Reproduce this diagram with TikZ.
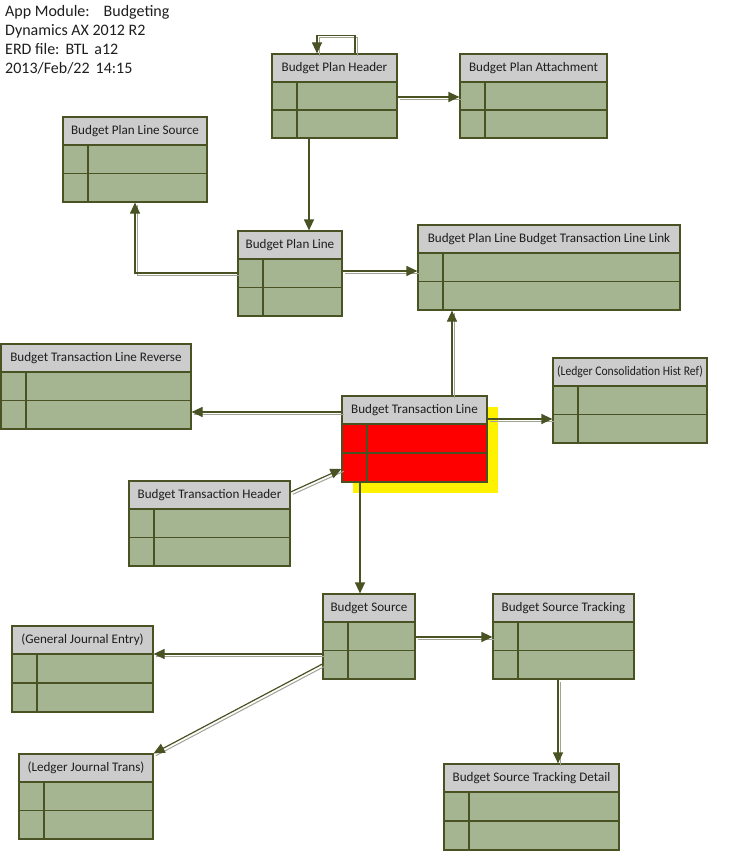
\documentclass[tikz,border=0pt]{standalone}
\usepackage{fontspec}
\setmainfont{Carlito}
\usetikzlibrary{arrows.meta,fit}
\definecolor{boxfill}{RGB}{165,181,146}
\definecolor{edge}{RGB}{72,82,34}
\definecolor{hdr}{RGB}{204,204,204}
\definecolor{ghost}{RGB}{160,162,148}
\definecolor{txt}{RGB}{30,30,30}
\tikzset{
  x=1pt, y=-1pt,
  boxline/.style={draw=edge, line width=1.2pt},
  title/.style={font=\fontsize{13.1}{15}\selectfont, text=txt, inner sep=0pt},
  info/.style={font=\fontsize{16}{19}\selectfont, text=txt, inner sep=0pt, anchor=base west},
  sconn/.style={draw=edge, line width=1.2pt, -{Triangle[length=11pt,width=10pt]}},
  dconn/.style={sconn, preaction={-, draw=ghost, line width=1pt, transform canvas={shift={(2.3pt,-2.3pt)}}}},
}
\newcommand\erdbox[7][boxfill]{%
  \fill[#1] (#3,#4+28) rectangle (#5,#6);
  \fill[hdr] (#3,#4) rectangle (#5,#4+28);
  \draw[boxline] (#3,#4+28) -- (#5,#4+28);
  \draw[boxline] (#3,{(#4+28+#6)/2}) -- (#5,{(#4+28+#6)/2});
  \draw[boxline] (#3+25,#4+28) -- (#3+25,#6);
  \node[fit={(#3,#4) (#5,#6)}, inner sep=0pt, boxline] (#2) {};
  \node[title] (#2-t) at ({(#3+#5)/2},#4+14) {#7};
}
\begin{document}
\begin{tikzpicture}
\useasboundingbox (0,0) rectangle (736,851);
\fill[white] (0,0) rectangle (736,851);

\node[info] (l1) at (5,17) {App Module:\hspace{14pt}Budgeting};
\node[info] (l2) at (5,36) {Dynamics AX 2012 R2};
\node[info] (l3) at (5,55) {ERD file:\hspace{6pt}BTL\hspace{6pt}a12};
\node[info] (l4) at (5,74) {2013/Feb/22\hspace{6pt}14:15};

\erdbox{plh}{272}{54}{397}{138}{Budget Plan Header}
\erdbox{pla}{460}{54}{607}{138}{Budget Plan Attachment}
\erdbox{pls}{63}{117}{207}{202}{Budget Plan Line Source}
\erdbox{pl}{238}{231}{342}{316}{Budget Plan Line}
\erdbox{link}{418}{225}{680}{310}{Budget Plan Line Budget Transaction Line Link}
\erdbox{btlr}{1}{344}{191}{429}{Budget Transaction Line Reverse}
\fill[yellow] (353,407) rectangle (498,493);
\erdbox[red]{btl}{342}{396}{487}{482}{Budget Transaction Line}
\erdbox{lch}{553}{358}{707}{443}{\scalebox{0.89}[1]{(Ledger Consolidation Hist Ref)}}
\erdbox{bth}{129}{481}{290}{566}{Budget Transaction Header}
\erdbox{bs}{323}{594}{415}{679}{Budget Source}
\erdbox{bst}{493}{594}{634}{679}{Budget Source Tracking}
\erdbox{gje}{12}{626}{153}{712}{(General Journal Entry)}
\erdbox{ljt}{19}{754}{153}{839}{(Ledger Journal Trans)}
\erdbox{bstd}{444}{764}{619}{850}{Budget Source Tracking Detail}

\draw[dconn] (plh.north -| 355,0) -- ++(0,-18) -| (plh.north -| 317,0);
\draw[dconn] (plh.east |- 0,97) -- (pla.west |- 0,97);
\draw[sconn] (plh.south -| 309,0) -- (pl.north -| 309,0);
\draw[dconn] (pl.west |- 0,273) -| (pls.south -| 135,0);
\draw[dconn] (pl.east |- 0,271) -- (link.west |- 0,271);
\draw[dconn] (btl.north -| 452,0) -- (link.south -| 452,0);
\draw[dconn] (btl.west |- 0,412) -- (btlr.east |- 0,412);
\draw[dconn] (btl.east |- 0,419) -- (lch.west |- 0,419);
\draw[dconn] (bth.east |- 0,492) -- (btl.west |- 0,469);
\draw[sconn] (btl.south -| 360,0) -- (bs.north -| 360,0);
\draw[dconn] (bs.east |- 0,637) -- (bst.west |- 0,637);
\draw[dconn] (bs.west |- 0,654) -- (gje.east |- 0,654);
\draw[dconn] (bs.west |- 0,664) -- (ljt.north east);
\draw[dconn] (bst.south -| 558,0) -- (bstd.north -| 558,0);
\end{tikzpicture}
\end{document}
